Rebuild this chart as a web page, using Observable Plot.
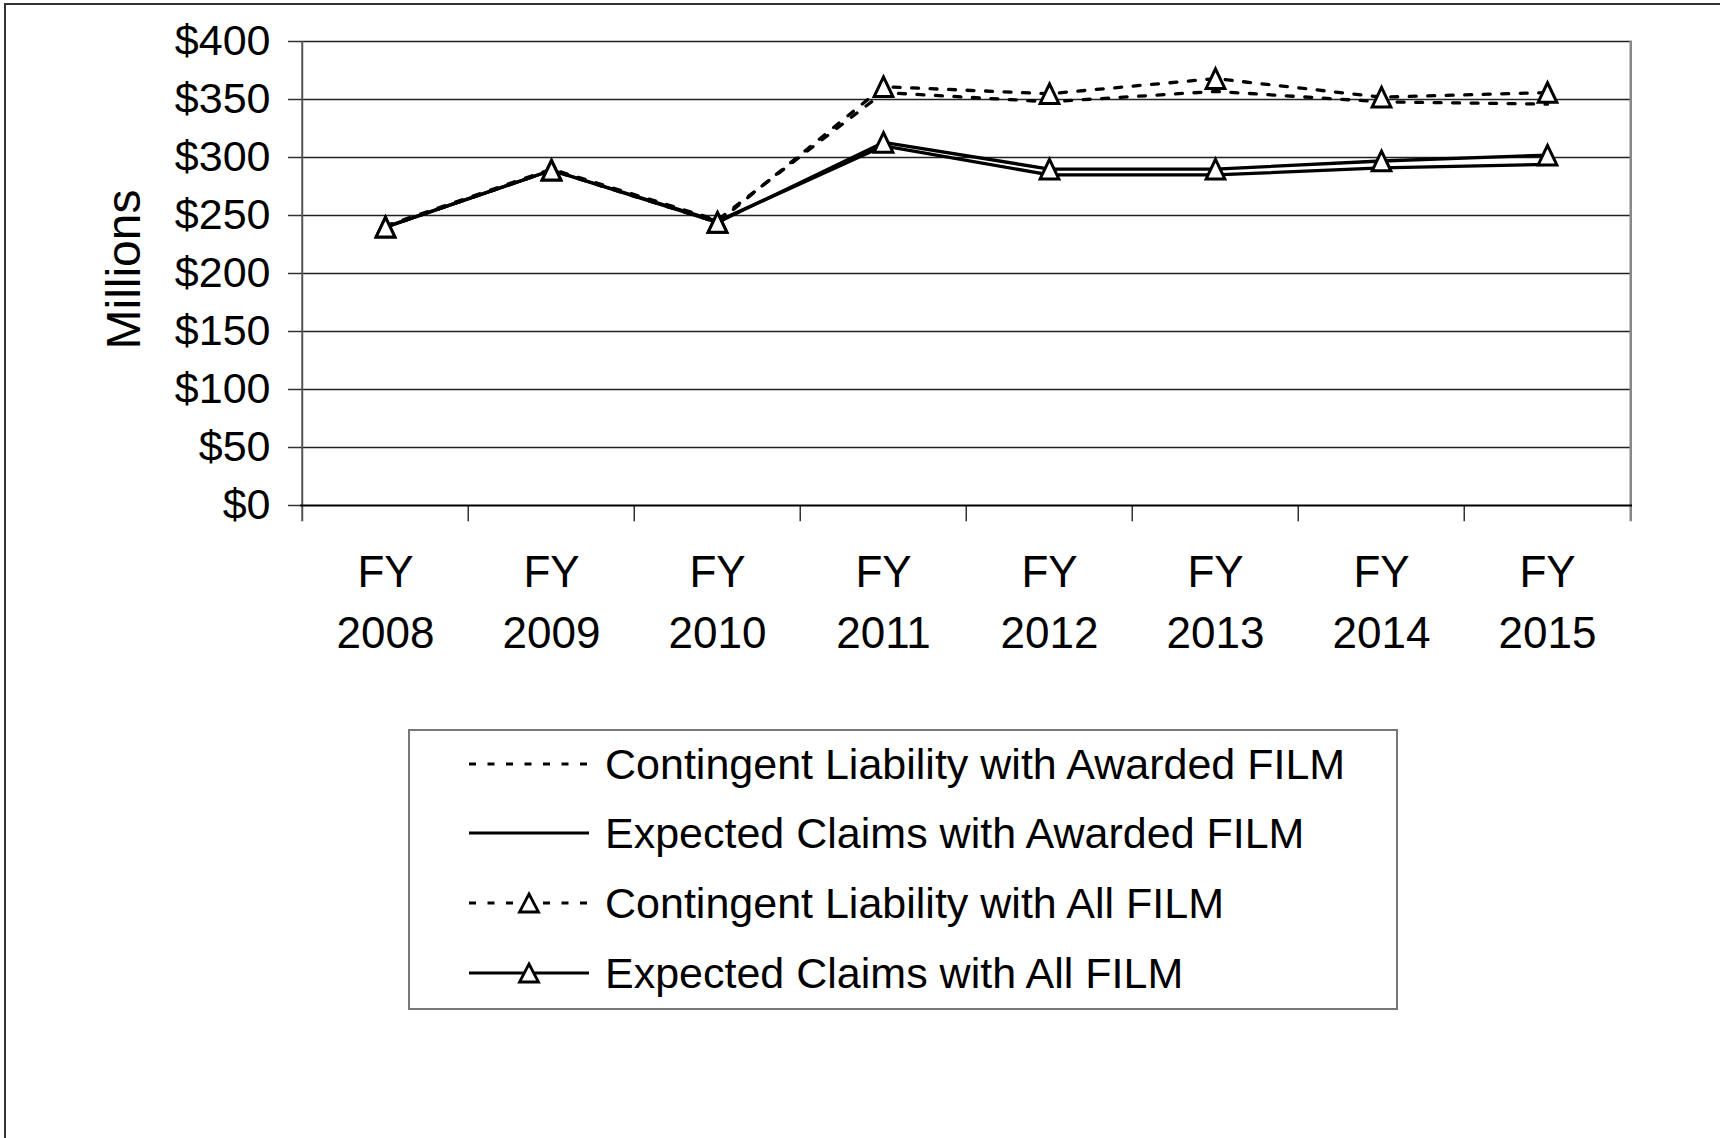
<!DOCTYPE html>
<html>
<head>
<meta charset="utf-8">
<script src="https://cdn.jsdelivr.net/npm/d3@7"></script>
<script src="https://cdn.jsdelivr.net/npm/@observablehq/plot@0.6"></script>
<style>
  html, body { margin: 0; padding: 0; background: #fff; overflow: hidden; width: 1720px; height: 1138px; }
  #frame { position: absolute; left: 4px; top: 3px; width: 1800px; height: 1300px; border: 2px solid #333; }
  #chart { position: absolute; left: 0; top: 0; }
  #legend { position: absolute; left: 408px; top: 729px; width: 990px; height: 281px; box-sizing: border-box; border: 2px solid #777; background: #fff; }
  .row { position: absolute; left: 0; height: 60px; display: flex; align-items: center; font-family: "Liberation Sans", Arial, sans-serif; font-size: 43px; color: #000; white-space: nowrap; }
  .row svg { position: absolute; left: 59px; }
  .row span { position: absolute; left: 195px; }
</style>
</head>
<body>
<div id="frame"></div>
<div id="chart"></div>
<div id="legend"></div>
<script>
// ---- Data ----
const years = ["2008", "2009", "2010", "2011", "2012", "2013", "2014", "2015"];
const contingentAwarded = [241, 290, 246, 356, 348, 357, 348, 346];
const expectedAwarded   = [240, 289, 245, 310, 285, 285, 291, 294];
const contingentAll     = [240, 289, 244, 361, 355, 368, 352, 356];
const expectedAll       = [240, 289, 244, 313, 290, 290, 297, 302];
const yTicks = [0, 50, 100, 150, 200, 250, 300, 350, 400];
const seriesNames = [
  "Contingent Liability with Awarded FILM",
  "Expected Claims with Awarded FILM",
  "Contingent Liability with All FILM",
  "Expected Claims with All FILM"
];

const rows = years.map((y, i) => ({
  year: y,
  ca: contingentAwarded[i],
  ea: expectedAwarded[i],
  cl: contingentAll[i],
  el: expectedAll[i]
}));

// ---- Layout ----
const W = 1720, H = 700;
const mL = 300, mR = 88, mT = 41, mB = 195;
const step = (W - mL - mR) / years.length;
const tickExt = 14; // below-axis tick extension (data units)

// triangle symbol centred on its bounding box
const triangleBox = {
  draw(ctx, size) {
    const r = Math.sqrt(size / Math.PI);
    const h = r * 1.15, w = r * 1.1;
    ctx.moveTo(0, -h);
    ctx.lineTo(w, h);
    ctx.lineTo(-w, h);
    ctx.closePath();
  }
};

const dash = "7,11.5";
const lw = 3.3;

const chart = Plot.plot({
  width: W,
  height: H,
  marginLeft: mL,
  marginRight: mR,
  marginTop: mT,
  marginBottom: mB,
  style: { fontFamily: "'Liberation Sans', Arial, sans-serif", fontSize: "43px", color: "#000", background: "transparent" },
  x: { type: "point", domain: years, padding: 0.5, axis: null },
  y: { domain: [0, 400], axis: null },
  marks: [
    // gridlines
    Plot.ruleY(yTicks.filter(d => d > 0), { stroke: "#222", strokeWidth: 1.5 }),
    // y axis with ticks and labels
    Plot.axisY({ ticks: yTicks, tickFormat: d => "$" + d, tickSize: 12, tickPadding: 18, fontSize: 43, label: null, stroke: "#333", strokeWidth: 1.5 }),
    // left axis line
    Plot.ruleX([years[0]], { dx: -step / 2, y1: -tickExt, y2: 400, stroke: "#555", strokeWidth: 2 }),
    // category boundary ticks
    Plot.ruleX(years.slice(1), { dx: -step / 2, y1: -tickExt, y2: 0, stroke: "#333", strokeWidth: 1.5 }),
    // right frame line
    Plot.ruleX([years[years.length - 1]], { dx: step / 2, y1: -tickExt, y2: 400, stroke: "#888", strokeWidth: 2.5 }),
    // x axis baseline
    Plot.ruleY([0], { stroke: "#000", strokeWidth: 2 }),
    // x labels
    Plot.text(years, { x: d => d, y: 0, text: d => "FY\n" + d, lineAnchor: "top", lineHeight: 1.37, dy: 39, fontSize: 44, fill: "#000" }),
    // y title
    Plot.text(["Millions"], { frameAnchor: "left", textAnchor: "middle", dx: 124 - mL, dy: -4, rotate: -90, fontSize: 48, fill: "#000" }),
    // series
    Plot.line(rows, { x: "year", y: "ca", stroke: "#000", strokeWidth: lw, strokeDasharray: dash }),
    Plot.line(rows, { x: "year", y: "ea", stroke: "#000", strokeWidth: lw }),
    Plot.line(rows, { x: "year", y: "cl", stroke: "#000", strokeWidth: lw, strokeDasharray: dash }),
    Plot.line(rows, { x: "year", y: "el", stroke: "#000", strokeWidth: lw }),
    Plot.dot(rows, { x: "year", y: "cl", symbol: triangleBox, r: 8.5, fill: "#fff", stroke: "#000", strokeWidth: 3 }),
    Plot.dot(rows, { x: "year", y: "el", symbol: triangleBox, r: 8.5, fill: "#fff", stroke: "#000", strokeWidth: 3 })
  ]
});
document.getElementById("chart").appendChild(chart);

// ---- Legend ----
const legend = document.getElementById("legend");
const legendCenters = [35, 104, 174, 244];
const styles = [
  { dashed: true, marker: false },
  { dashed: false, marker: false },
  { dashed: true, marker: true },
  { dashed: false, marker: true }
];
seriesNames.forEach((name, i) => {
  const row = document.createElement("div");
  row.className = "row";
  row.style.top = (legendCenters[i] - 30 - 2) + "px";
  row.style.width = "980px";
  const s = styles[i];
  const tri = s.marker ? `<path d="M60,6 L69.5,24 L50.5,24 Z" fill="#fff" stroke="#000" stroke-width="2.8"/>` : "";
  row.innerHTML = `<svg width="120" height="30" viewBox="0 0 120 30">
      <line x1="0" x2="120" y1="15" y2="15" stroke="#000" stroke-width="2.8" ${s.dashed ? `stroke-dasharray="${dash}"` : ""}/>
      ${tri}
    </svg><span>${name}</span>`;
  legend.appendChild(row);
});
</script>
</body>
</html>
